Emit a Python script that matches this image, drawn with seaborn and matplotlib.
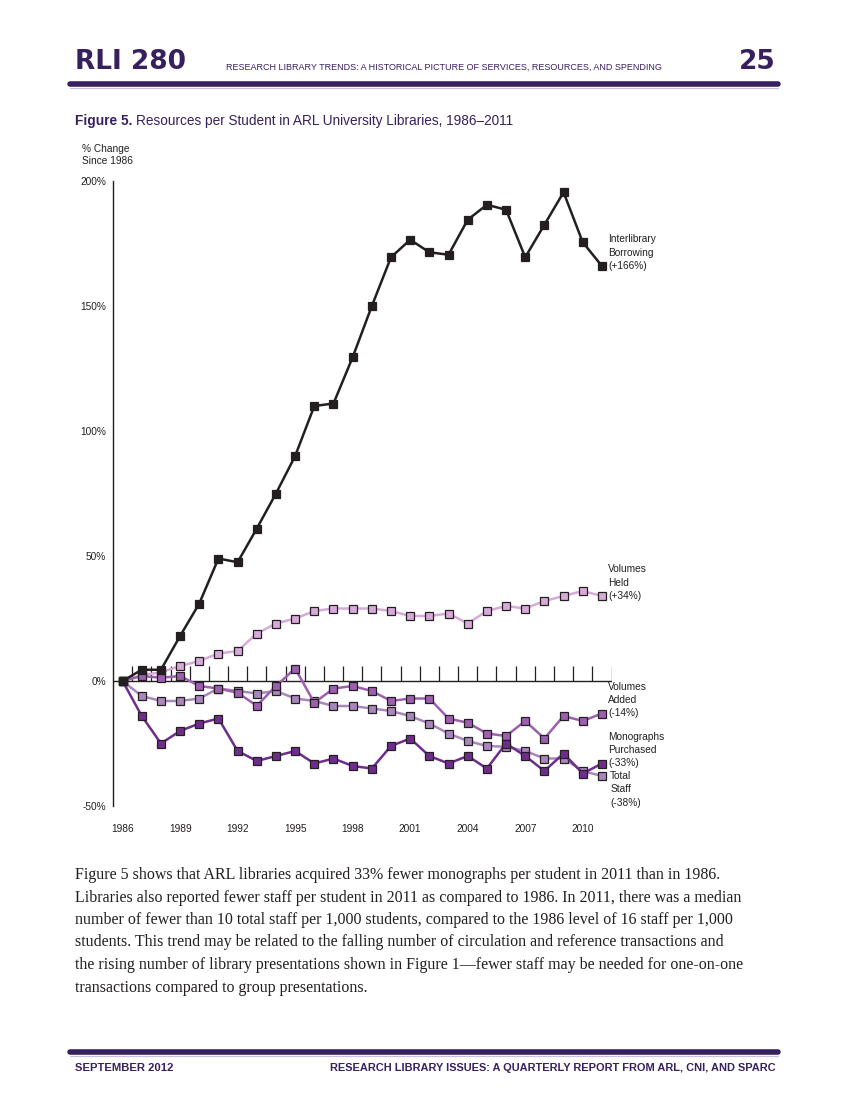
import numpy as np
import pandas as pd
import matplotlib
matplotlib.use('Agg')
import matplotlib.pyplot as plt
import seaborn as sns

# Data: % change since 1986
years = list(range(1986, 2012))
interlibrary_borrowing = [0, 4.5, 4.5, 18, 31, 49, 47.5, 61, 75, 90, 110, 111,
                          129.5, 150, 169.5, 176.5, 171.5, 170.5, 184.5, 190.5,
                          188.5, 169.5, 182.5, 195.5, 175.5, 166]
volumes_held = [0, 2.3, 3.5, 6, 8, 11, 12, 19, 23, 25, 28, 29, 29, 29, 28, 26,
                26, 27, 23, 28, 30, 29, 32, 34, 36, 34]
volumes_added = [0, 2, 1.3, 2, -2, -3, -4.7, -9.9, -2, 5, -8.7, -3, -2, -4,
                 -8, -7, -7, -15, -16.7, -21, -22, -16, -23, -14, -16, -13]
monographs_purchased = [0, -14, -25, -20, -17, -15, -28, -32, -30, -28, -33,
                        -31, -34, -35, -26, -23, -30, -33, -30, -35, -25, -30,
                        -36, -29, -37, -33]
total_staff = [0, -6, -8, -8, -7, -3, -4, -5, -4, -7, -8, -10, -10, -11, -12,
               -14, -17, -21, -24, -26, -26.3, -28, -31, -31, -36, -38]

series_names = ['Volumes Held', 'Total Staff', 'Volumes Added',
                'Monographs Purchased', 'Interlibrary Borrowing']
series_values = [volumes_held, total_staff, volumes_added,
                 monographs_purchased, interlibrary_borrowing]
series_colors = ['#d7aad9', '#a888bb', '#9d5fb0', '#6e2d8c', '#231f20']
end_labels = ['Volumes\nHeld\n(+34%)', 'Total\nStaff\n(-38%)',
              'Volumes\nAdded\n(-14%)', 'Monographs\nPurchased\n(-33%)',
              'Interlibrary\nBorrowing\n(+166%)']
year_ticks = [1986, 1989, 1992, 1995, 1998, 2001, 2004, 2007, 2010]
pct_ticks = [-50, 0, 50, 100, 150, 200]

df = pd.concat([pd.DataFrame({'year': years, 'pct': v, 'series': n})
                for n, v in zip(series_names, series_values)])

purple = '#37205e'
ink = '#231f20'
sans = ['Liberation Sans', 'DejaVu Sans']

sns.set_style('white')
plt.rcParams['font.family'] = sans

fig = plt.figure(figsize=(8.49, 11), dpi=100)
W, H = 849, 1100

def fx(px):
    return px / W

def fy(py):
    return 1 - py / H

# page header
fig.text(fx(75), fy(62), 'RLI 280', fontsize=19, fontweight='bold', color=purple,
         family=['DejaVu Sans'], va='center')
fig.text(fx(226), fy(67), 'RESEARCH LIBRARY TRENDS: A HISTORICAL PICTURE OF SERVICES, RESOURCES, AND SPENDING',
         fontsize=6.5, color=purple, va='center')
fig.text(fx(776), fy(62), '25', fontsize=19, fontweight='bold', color=purple,
         family=['DejaVu Sans'], va='center', ha='right')
fig.add_artist(plt.Line2D([fx(70), fx(778)], [fy(84), fy(84)], color=purple, lw=4))
fig.add_artist(plt.Line2D([fx(70), fx(778)], [fy(87.5), fy(87.5)], color='#c9bfd9', lw=0.8))

# figure title
t1 = fig.text(fx(75), fy(121), 'Figure 5.', fontsize=9.9, fontweight='bold', color=purple, va='center')
fig.canvas.draw()
bb = t1.get_window_extent(fig.canvas.get_renderer())
fig.text(bb.x1 / W + fx(4), fy(121), 'Resources per Student in ARL University Libraries, 1986\u20132011',
         fontsize=9.8, color=purple, va='center')

fig.text(fx(82), fy(155), '% Change\nSince 1986', fontsize=7.3, color=ink, va='center', linespacing=1.3)

# chart axes: x 1985.5..2011.5 -> px 113..611.5 ; y -50..200 -> px 806..181
ax = fig.add_axes([fx(113), fy(806), fx(611.5 - 113), (806 - 181) / H])
sns.lineplot(data=df, x='year', y='pct', hue='series', hue_order=series_names,
             palette=series_colors, marker='s', markersize=6, markeredgecolor=ink,
             markeredgewidth=0.9, linewidth=1.8, legend=False, ax=ax, clip_on=False)
ax.set_xlim(1985.5, 2011.5)
ax.set_ylim(-50, 200)

for s in ['top', 'right', 'bottom']:
    ax.spines[s].set_visible(False)
ax.spines['left'].set_color(ink)
ax.spines['left'].set_linewidth(1)

ax.axhline(0, color=ink, lw=1, zorder=1)
ax.vlines(np.arange(1986.5, 2012, 1), 0, 6, color=ink, lw=0.9, zorder=1)

ax.set_yticks(pct_ticks)
ax.set_yticklabels([f'{v}%' for v in pct_ticks])
ax.tick_params(axis='y', direction='in', length=9, width=1, color=ink, pad=5,
               labelsize=7.3, labelcolor=ink)
ax.set_xticks(year_ticks)
ax.set_xticklabels([str(y) for y in year_ticks])
ax.tick_params(axis='x', length=0, pad=13, labelsize=7.3, labelcolor=ink)
ax.set_xlabel('')
ax.set_ylabel('')
ax.grid(False)

# series end labels
for name, vals, lab in zip(series_names, series_values, end_labels):
    if name == 'Total Staff':
        ax.annotate(lab, (2011, vals[-1]), xytext=(6, 3.5), textcoords='offset points',
                    va='top', ha='left', fontsize=7.3, color=ink, linespacing=1.4)
    else:
        ax.annotate(lab, (2011, vals[-1]), xytext=(4.5, -3.5), textcoords='offset points',
                    va='bottom', ha='left', fontsize=7.3, color=ink, linespacing=1.4)

# body text
body = [
    'Figure 5 shows that ARL libraries acquired 33% fewer monographs per student in 2011 than in 1986.',
    'Libraries also reported fewer staff per student in 2011 as compared to 1986. In 2011, there was a median',
    'number of fewer than 10 total staff per 1,000 students, compared to the 1986 level of 16 staff per 1,000',
    'students. This trend may be related to the falling number of circulation and reference transactions and',
    'the rising number of library presentations shown in Figure 1\u2014fewer staff may be needed for one-on-one',
    'transactions compared to group presentations.',
]
for i, line in enumerate(body):
    fig.text(fx(75), fy(875 + i * 22.5), line, fontsize=11.5, color=ink, va='center',
             family=['Liberation Serif', 'DejaVu Serif'])

# footer
fig.add_artist(plt.Line2D([fx(70), fx(778)], [fy(1052), fy(1052)], color=purple, lw=4))
fig.add_artist(plt.Line2D([fx(70), fx(778)], [fy(1055.5), fy(1055.5)], color='#c9bfd9', lw=0.8))
fig.text(fx(75), fy(1068), 'SEPTEMBER 2012', fontsize=8.1, fontweight='bold', color=purple, va='center')
fig.text(fx(776), fy(1068), 'RESEARCH LIBRARY ISSUES: A QUARTERLY REPORT FROM ARL, CNI, AND SPARC',
         fontsize=7.9, fontweight='bold', color=purple, va='center', ha='right')

fig.savefig('out.png', dpi=100)
